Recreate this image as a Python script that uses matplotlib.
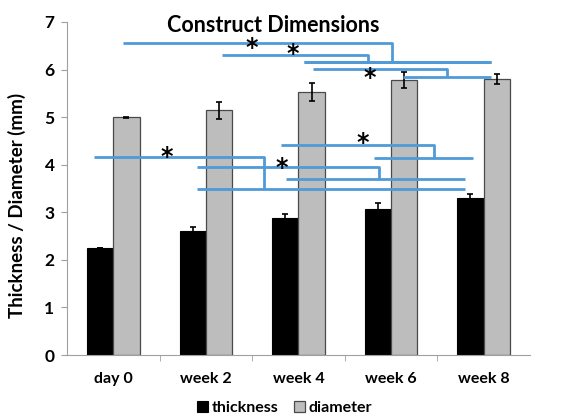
import numpy as np
import matplotlib.pyplot as plt

plt.rcParams['font.family'] = ['Lato', 'DejaVu Sans']
plt.rcParams['font.weight'] = 'bold'
plt.rcParams['axes.labelweight'] = 'bold'

# construct size over culture time (mm)
time_points = ['day 0', 'week 2', 'week 4', 'week 6', 'week 8']
thickness = [2.25, 2.61, 2.87, 3.07, 3.30]
thickness_err = [0.0, 0.08, 0.10, 0.13, 0.08]
diameter = [5.00, 5.14, 5.53, 5.78, 5.80]
diameter_err = [0.01, 0.18, 0.19, 0.17, 0.10]

# significance brackets: top line (x0 -> joint) at y_top, drop to y_low,
# lower line spans x_lo..x_hi ; star at (sx, sy)
sig_x0 = [0.10, 1.17, 2.16, -0.21, 0.90, 1.81]
sig_ytop = [6.56, 6.30, 6.02, 4.17, 3.95, 4.42]
sig_joint = [3.01, 2.75, 3.60, 1.63, 2.87, 3.46]
sig_ylow = [6.16, 6.16, 5.85, 3.50, 3.71, 4.15]
sig_xlo = [2.06, 2.06, 3.13, 0.90, 1.87, 2.82]
sig_xhi = [4.08, 4.08, 4.08, 3.80, 3.80, 3.89]
star_x = [1.50, 1.94, 2.77, 0.58, 1.82, 2.69]
star_y = [6.55, 6.41, 5.92, 4.26, 4.01, 4.54]

fig = plt.figure(figsize=(5.65, 4.19), dpi=100)
ax = fig.add_axes([0.1186, 0.1527, 0.8194, 0.7948])

x = np.arange(len(time_points))
w = 0.285
ax.bar(x - w / 2, thickness, w, color='black', edgecolor='black', linewidth=0.8,
       label='thickness', zorder=2)
ax.bar(x + w / 2, diameter, w, color='#bdbdbd', edgecolor='#4a4a4a', linewidth=0.9,
       label='diameter', zorder=2)
ax.errorbar(x - w / 2, thickness, yerr=thickness_err, fmt='none', ecolor='black',
            elinewidth=1.2, capsize=2.5, capthick=1.2, zorder=3)
ax.errorbar(x + w / 2, diameter, yerr=diameter_err, fmt='none', ecolor='black',
            elinewidth=1.2, capsize=2.5, capthick=1.2, zorder=3)

blue = '#4f9ad8'
for i in range(len(sig_x0)):
    ax.plot([sig_x0[i], sig_joint[i], sig_joint[i]],
            [sig_ytop[i], sig_ytop[i], sig_ylow[i]], color=blue, lw=2.0, zorder=4,
            solid_capstyle='butt')
    ax.plot([sig_xlo[i], sig_xhi[i]], [sig_ylow[i], sig_ylow[i]], color=blue, lw=2.0,
            zorder=4, solid_capstyle='butt')
    ax.annotate('*', (star_x[i], star_y[i]), xytext=(0, -3), textcoords='offset points',
                fontsize=17, ha='center', va='center', family='DejaVu Sans',
                fontweight='bold', zorder=5)

ax.set_xlim(-0.5, 4.5)
ax.set_ylim(0, 7)
ax.set_yticks(range(8))
ax.set_xticks(x)
ax.set_xticklabels(time_points, fontweight='bold')
ax.set_yticklabels([str(v) for v in range(8)], fontweight='bold')
ax.set_xticks(np.arange(0.5, 4.5, 1), minor=True)
ax.tick_params(axis='x', which='major', length=0, labelsize=11.5, pad=12)
ax.tick_params(axis='x', which='minor', length=4, color='#a0a0a0')
ax.tick_params(axis='y', length=4, color='#a0a0a0', labelsize=12.5, pad=5)

for s in ['top', 'right']:
    ax.spines[s].set_visible(False)
for s in ['left', 'bottom']:
    ax.spines[s].set_color('#a0a0a0')

ax.set_ylabel('Thickness / Diameter (mm)', fontsize=13.5)
ax.yaxis.set_label_coords(-0.088, 0.45)
ax.text(0.445, 1.02, 'Construct Dimensions', transform=ax.transAxes, fontsize=15.5,
        fontweight='bold', ha='center', va='top')

ax.legend(loc='center', bbox_to_anchor=(0.47, -0.16), ncol=2, frameon=False,
          handlelength=0.7, handleheight=0.7, handletextpad=0.2,
          columnspacing=1.0, prop={'weight': 'bold', 'size': 11.5})

fig.savefig('out.png', dpi=100)
